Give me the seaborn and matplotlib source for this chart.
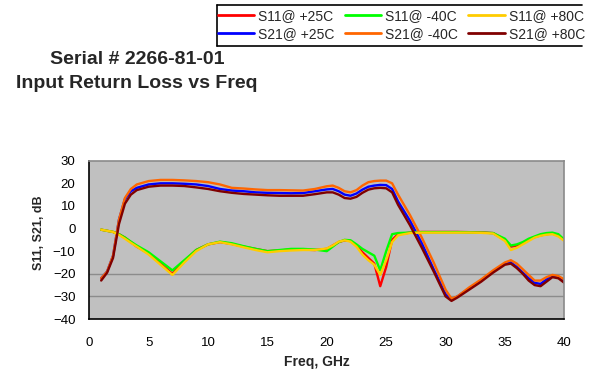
import matplotlib
matplotlib.use("Agg")
import matplotlib.pyplot as plt
from matplotlib.lines import Line2D
import seaborn as sns
import pandas as pd

freq = [1, 1.5, 2, 2.5, 3, 3.5, 4, 5, 6, 7, 8, 9, 10, 11, 12, 13, 14, 15, 16, 17, 18, 19, 20,
        20.5, 21, 21.5, 22, 22.5, 23, 23.5, 24, 24.5, 25, 25.5, 26, 27, 28, 29, 30, 30.5, 31,
        32, 33, 34, 35, 35.5, 36, 36.5, 37, 37.5, 38, 38.5, 39, 39.5, 40]

s11_p25 = [-0.5, -1, -1.5, -2.5, -4, -6, -8, -11, -15.5, -20, -14.5, -9.5, -7, -6, -6.8, -8, -9, -10, -9.7, -9.3, -9.3, -9.5, -9,
           -7.5, -6, -5.2, -5.5, -7.5, -10.5, -13, -15.5, -25.5, -17, -5, -2.5, -1.8, -1.5, -1.5, -1.5, -1.5, -1.5,
           -1.6, -1.7, -2, -5, -8, -7.5, -6.5, -5, -3.8, -3, -2.5, -2.2, -3, -5]
s21_p25 = [-22, -19, -12, 4, 13, 16.5, 18, 19.5, 20, 20, 19.8, 19.5, 18.8, 17.5, 16.8, 16.5, 16, 15.8, 15.7, 15.6, 15.7, 16.5, 17.3,
           17.5, 16.5, 15, 14.5, 15.5, 17.2, 18.5, 19, 19.3, 19.2, 17.5, 12, 3.5, -6.5, -18, -29, -31.5, -30,
           -26.5, -23, -19, -15.5, -15, -17, -19.5, -22, -24, -24.5, -22.5, -21, -21.5, -23.5]
s11_m40 = [-0.5, -1, -1.5, -2.5, -4, -5.8, -7.5, -10.5, -14.5, -18.5, -14, -9.5, -7, -5.8, -6.5, -7.8, -9, -10, -9.5, -9, -9, -9.3, -10,
           -8, -6, -5, -5.2, -7, -9, -10.5, -12, -18.5, -10, -2.5, -2, -1.8, -1.6, -1.6, -1.6, -1.6, -1.6,
           -1.7, -1.8, -2, -4.5, -7.5, -7, -6, -4.5, -3.5, -2.5, -2, -1.8, -2.5, -5]
s21_m40 = [-22, -19, -12, 4, 13.5, 17.5, 19.5, 21, 21.5, 21.5, 21.3, 21, 20.5, 19.5, 18, 17.7, 17.3, 17, 17, 16.9, 16.8, 17.5, 18.7,
           19, 18, 16.5, 16, 17, 19, 20.5, 21, 21.2, 21.2, 20, 15, 6, -4, -15, -27, -31, -30,
           -26, -22.5, -18.5, -15, -14, -15.5, -18, -20.5, -23, -23, -21.5, -20.5, -21, -22.5]
s11_p80 = [-0.5, -1, -1.5, -2.8, -4.5, -6.3, -8, -11.5, -16, -20.5, -15, -10, -7, -6, -7, -8.3, -9.5, -10.5, -10, -9.7, -9.5, -9.5, -8.8,
           -7.5, -5.8, -5.2, -5.8, -8, -11.5, -14, -16, -20.5, -14, -6, -3, -2, -1.8, -1.8, -1.8, -1.8, -1.8,
           -1.8, -1.9, -2.2, -5.5, -9.5, -8.5, -7, -5.5, -4, -3.2, -2.7, -2.5, -3.5, -5.5]
s21_p80 = [-23, -19.5, -13, 2, 11, 15, 17, 18.5, 19, 19, 18.8, 18.2, 17.5, 16.5, 15.8, 15.3, 15, 14.7, 14.5, 14.5, 14.5, 15.2, 16,
           16, 15, 13.5, 13.2, 14, 15.8, 17.2, 17.8, 18, 17.8, 16, 10.5, 1.5, -8.5, -19, -30, -32, -30.5,
           -27, -23.5, -19.5, -16, -15.5, -17.5, -20, -23, -25, -25.5, -23.5, -21.5, -22, -24]

labels = ["S11@ +25C", "S21@ +25C", "S11@ -40C", "S21@ -40C", "S11@ +80C", "S21@ +80C"]
series = [s11_p25, s21_p25, s11_m40, s21_m40, s11_p80, s21_p80]
colors = ["#ff0000", "#0000ff", "#00ff00", "#ff6600", "#ffcc00", "#800000"]

yticks = [-40, -30, -20, -10, 0, 10, 20, 30]
xticks = [0, 5, 10, 15, 20, 25, 30, 35, 40]

df = pd.concat([pd.DataFrame({"freq": freq, "val": v, "series": lab}) for lab, v in zip(labels, series)])

sns.set_style("white")
plt.rcParams["font.family"] = ["Liberation Sans", "DejaVu Sans"]

W, H = 593, 370
fig = plt.figure(figsize=(W / 100, H / 100), dpi=100)
ax = fig.add_axes([89.3 / W, 1 - 319 / H, (564.3 - 89.3) / W, (319 - 160.7) / H])
ax.set_facecolor("#c0c0c0")

sns.lineplot(data=df, x="freq", y="val", hue="series", hue_order=labels,
             palette=dict(zip(labels, colors)), linewidth=1.7, ax=ax, legend=False, sort=False)

ax.set_xlim(0, 40)
ax.set_ylim(-40, 30)
ax.set_xticks(xticks)
ax.set_yticks(yticks)
ax.tick_params(axis="both", labelsize=9.5, colors="black")
ax.tick_params(axis="y", direction="inout", length=10, width=1, pad=5)
ax.tick_params(axis="x", direction="out", length=3, width=1, pad=10)
ax.yaxis.grid(True, color="#8c8c8c", linewidth=1)
for val, gl in zip(yticks, ax.yaxis.get_gridlines()):
    gl.set_visible(val in (-20, -30))

for s in ["left", "bottom"]:
    ax.spines[s].set_color("black")
    ax.spines[s].set_linewidth(1.2)
for s in ["top", "right"]:
    ax.spines[s].set_color("#8a8a8a")
    ax.spines[s].set_linewidth(1.2)

ax.set_xlabel("Freq, GHz", fontsize=10, fontweight="bold")
ax.set_ylabel("S11, S21, dB", fontsize=9, fontweight="bold")
ax.xaxis.set_label_coords((316.7 - 89.3) / (564.3 - 89.3), -(362 - 319) / (319 - 160.7), transform=ax.transAxes)
ax.xaxis.label.set_va("center")
ax.yaxis.set_label_coords(-(89.3 - 39) / (564.3 - 89.3), (319 - 233) / (319 - 160.7))
ax.yaxis.label.set_va("center")

fig.text(137 / W, 1 - 64.3 / H, "Serial # 2266-81-01", fontsize=14, fontweight="bold",
         ha="center", va="baseline")
fig.text(137 / W, 1 - 88.5 / H, "Input Return Loss vs Freq", fontsize=14, fontweight="bold",
         ha="center", va="baseline")

handles = [Line2D([], [], color=c, linewidth=2) for c in colors]
fig.legend(handles, labels, ncol=3, frameon=False, fontsize=10,
           loc="upper left", bbox_to_anchor=(215 / W, 1 - 6 / H),
           handlelength=2.6, handletextpad=0.3, columnspacing=0.75,
           labelspacing=0.3, borderaxespad=0, borderpad=0.2)

def px(x, y):
    return (x / W, 1 - y / H)

for (x0, y0), (x1, y1) in [((217.3, 5), (581.7, 5)), ((217.3, 5), (217.3, 45.7)), ((217.3, 45.7), (581.7, 45.7))]:
    a, b = px(x0, y0)
    c, d = px(x1, y1)
    fig.add_artist(Line2D([a, c], [b, d], color="black", linewidth=1.2, transform=fig.transFigure))

fig.savefig("out.png", dpi=100)
